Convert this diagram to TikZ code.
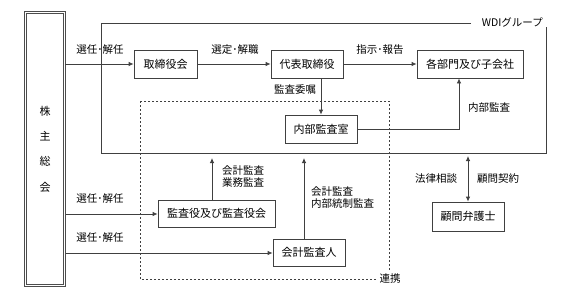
\documentclass[tikz,border=0pt]{standalone}
\usepackage{fontspec}
\setmainfont{Noto Sans CJK JP}
\usetikzlibrary{arrows.meta}
\tikzset{
  x=1pt,y=-1pt,
  boxn/.style={draw=black!75,line width=0.8pt,rectangle,minimum height=28pt,inner sep=0pt,font=\fontsize{11}{13}\selectfont,fill=white},
  lbl/.style={font=\fontsize{10.5}{12.5}\selectfont,inner sep=0pt},
  conn/.style={draw=black!75,line width=0.8pt},
  arr/.style={conn,-{Latex[length=5pt,width=4.5pt]}},
  darr/.style={conn,{Latex[length=5pt,width=4.5pt]}-{Latex[length=5pt,width=4.5pt]}},
}
\begin{document}
\begin{tikzpicture}
\useasboundingbox (0,0) rectangle (567,297);
% WDI group frame
\coordinate (w1) at (471,23);
\coordinate (w2) at (101,23);
\coordinate (w3) at (101,153);
\coordinate (w4) at (546,153);
\coordinate (w5) at (546,27);
\draw[conn] (w1) -- (w2) -- (w3) -- (w4) -- (w5);
\node[lbl,anchor=east] (wdi) at (543,22) {WDIグループ};
% dashed cooperation frame
\draw[conn,dashed,dash pattern=on 2pt off 2pt] (140,101) rectangle (389,279);
\node[lbl,fill=white,inner sep=2pt] (renkei) at (390,279) {連携};
% shareholders
\node[draw=black!70,double,double distance=1.4pt,line width=0.7pt,minimum width=39pt,minimum height=273pt,inner sep=0pt,align=center,font=\fontsize{11}{25.3}\selectfont] (sh) at (45,149) {株\\主\\総\\会};
% boxes
\node[boxn,minimum width=63pt] (tb) at (165.5,64) {取締役会};
\node[boxn,minimum width=72pt] (dr) at (307,64) {代表取締役};
\node[boxn,minimum width=106pt] (bu) at (470,64) {各部門及び子会社};
\node[boxn,minimum width=72pt] (ia) at (321,129) {内部監査室};
\node[boxn,minimum width=117pt,minimum height=27pt] (ka) at (216.5,213.5) {監査役及び監査役会};
\node[boxn,minimum width=72pt,minimum height=27pt] (ea) at (309,252.5) {会計監査人};
\node[boxn,minimum width=72pt,minimum height=29pt] (la) at (468,216.5) {顧問弁護士};
% connectors
\draw[arr] (sh.east |- tb.west) -- (tb.west);
\draw[arr] (tb.east) -- (dr.west);
\draw[arr] (dr.east) -- (bu.west);
\draw[arr] (ia.north |- dr.south) -- (ia.north);
\coordinate (buin) at ([xshift=-11pt]bu.south);
\draw[arr] (ia.east) -| (buin);
\coordinate (kaT) at (212,158);
\draw[arr] (ka.north -| kaT) -- (kaT);
\coordinate (eaT) at (304,158);
\draw[arr] (ea.north -| eaT) -- (eaT);
\coordinate (laT) at (468,156);
\draw[darr] (la.north) -- (laT);
\coordinate (shka) at (66,214);
\draw[arr] (shka) -- (shka -| ka.west);
\coordinate (shea) at (66,253);
\draw[arr] (shea) -- (shea -| ea.west);
% labels
\node[lbl] (l1) at (100,50) {選任･解任};
\node[lbl] (l2) at (235,50) {選定･解職};
\node[lbl] (l3) at (380,50) {指示･報告};
\node[lbl] (l4) at (295,90) {監査委嘱};
\node[lbl] (l5) at (489,108) {内部監査};
\node[lbl,align=left,anchor=west,font=\fontsize{10.5}{12}\selectfont] (l6) at (222,177) {会計監査\\業務監査};
\node[lbl,align=left,anchor=west,font=\fontsize{10.5}{12}\selectfont] (l7) at (311,198) {会計監査\\内部統制監査};
\node[lbl] (l8) at (100,199) {選任･解任};
\node[lbl] (l9) at (100,238) {選任･解任};
\node[lbl] (l10) at (436,179) {法律相談};
\node[lbl] (l11) at (498,179) {顧問契約};
\end{tikzpicture}
\end{document}
